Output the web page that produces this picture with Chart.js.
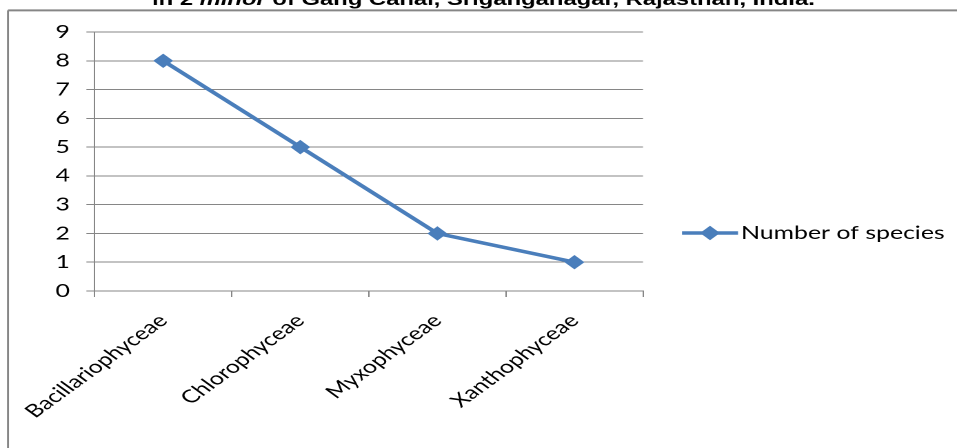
<!DOCTYPE html>
<html>
<head>
<meta charset="utf-8">
<script src="https://cdn.jsdelivr.net/npm/chart.js@4/dist/chart.umd.min.js"></script>
<style>
  html, body { margin: 0; padding: 0; background: #fff; overflow: hidden; }
  #c { width: 957px; height: 448px; }
</style>
</head>
<body>
<canvas id="c" width="694" height="448" style="width:957px;height:448px"></canvas>
<script>
// data
const categories = ["Bacillariophyceae", "Chlorophyceae", "Myxophyceae", "Xanthophyceae"];
const speciesCounts = [8, 5, 2, 1];
const seriesName = "Number of species";
const yTicks = [0, 1, 2, 3, 4, 5, 6, 7, 8, 9];
const titleParts = [
  ["in 2 ", false],
  ["minor", true],
  [" of Gang Canal, Sriganganagar, Rajasthan, India.", false]
];

// the original picture is stretched sideways, so the canvas is drawn narrow and widened by css
const SX = 957 / 694;
const lineBlue = "#4a7ebb";
const axisGrey = "#868686";
const labelFont = { family: "Lato", size: 18 };

// frame + cut-off title + legend
const decor = {
  id: "decor",
  beforeDraw(chart) {
    const ctx = chart.ctx;
    ctx.save();
    ctx.strokeStyle = axisGrey;
    ctx.lineWidth = 2;
    ctx.beginPath();
    ctx.moveTo(8 / SX, 10.4);
    ctx.lineTo(chart.width, 10.4);
    ctx.stroke();
    ctx.lineWidth = 2 / SX;
    ctx.beginPath();
    ctx.moveTo(8 / SX, 10.4);
    ctx.lineTo(8 / SX, chart.height);
    ctx.stroke();
    ctx.restore();
  },
  afterDraw(chart) {
    const ctx = chart.ctx;
    ctx.save();

    // title, only its lower part shows
    const want = (815 - 152) / SX;
    let size = 15;
    const fontOf = (it, s) => (it ? "italic " : "") + "bold " + s + "px 'Liberation Sans', Arial, sans-serif";
    let total = 0;
    titleParts.forEach(([t, it]) => { ctx.font = fontOf(it, size); total += ctx.measureText(t).width; });
    size = size * want / total;
    let x = 152 / SX;
    ctx.fillStyle = "#000";
    ctx.textBaseline = "alphabetic";
    ctx.textAlign = "left";
    titleParts.forEach(([t, it]) => {
      ctx.font = fontOf(it, size);
      ctx.fillText(t, x, 4.8);
      x += ctx.measureText(t).width;
    });

    // legend
    const ds = chart.data.datasets[0];
    const ly = 233;
    ctx.strokeStyle = ds.borderColor;
    ctx.lineWidth = ds.borderWidth;
    ctx.beginPath();
    ctx.moveTo(682 / SX, ly);
    ctx.lineTo(738 / SX, ly);
    ctx.stroke();
    ctx.fillStyle = ds.borderColor;
    ctx.lineWidth = 1;
    Chart.helpers.drawPoint(ctx, { pointStyle: "rectRot", radius: ds.pointRadius, borderWidth: 1 }, 710 / SX, ly);
    ctx.fill();
    ctx.fillStyle = "#000";
    ctx.font = labelFont.size + "px " + labelFont.family;
    ctx.textBaseline = "middle";
    ctx.fillText(ds.label, 741 / SX, ly);
    ctx.restore();
  }
};

new Chart(document.getElementById("c"), {
  type: "line",
  data: {
    labels: categories,
    datasets: [{
      label: seriesName,
      data: speciesCounts,
      borderColor: lineBlue,
      backgroundColor: lineBlue,
      borderWidth: 3.5,
      tension: 0,
      pointStyle: "rectRot",
      pointRadius: 6.5,
      pointHoverRadius: 6.5,
      pointBorderWidth: 1,
      pointBackgroundColor: lineBlue,
      pointBorderColor: lineBlue
    }]
  },
  options: {
    responsive: false,
    animation: false,
    devicePixelRatio: 2,
    layout: { padding: { top: 32, right: 694 - 643 / SX, bottom: 0, left: 0 } },
    plugins: { legend: { display: false }, tooltip: { enabled: false }, title: { display: false } },
    scales: {
      x: {
        type: "category",
        offset: true,
        grid: { offset: true, drawOnChartArea: false, color: axisGrey, tickLength: 6 },
        border: { color: axisGrey, width: 1 },
        ticks: {
          autoSkip: false,
          minRotation: 45,
          maxRotation: 45,
          padding: 13,
          color: "#000",
          font: labelFont
        },
        afterFit(scale) { scale.height = 448 - 291; }
      },
      y: {
        min: yTicks[0],
        max: yTicks[yTicks.length - 1],
        afterBuildTicks(scale) { scale.ticks = yTicks.map(v => ({ value: v })); },
        grid: { color: axisGrey, tickLength: 6 },
        border: { color: axisGrey, width: 1 },
        ticks: { padding: 12, color: "#000", font: labelFont },
        afterFit(scale) { scale.width = 92 / SX; }
      }
    }
  },
  plugins: [decor]
});
</script>
</body>
</html>
